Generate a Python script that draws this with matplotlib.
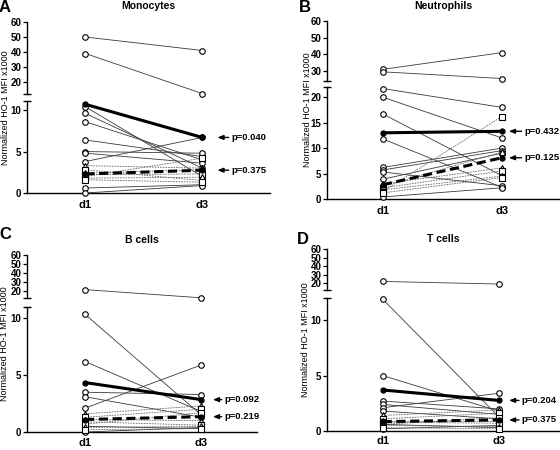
import numpy as np
import matplotlib
matplotlib.use("Agg")
import matplotlib.pyplot as plt

plt.rcParams["font.family"] = ["Liberation Sans", "DejaVu Sans"]

# ---- data (values x1000) ----
days = ["d1", "d3"]
ylabel = "Normalized HO-1 MFI x1000"

mono_solid_d1 = [50, 39, 10.4, 9.6, 8.6, 6.4, 5.0, 4.8, 3.8, 0.6, 0.0]
mono_solid_d3 = [41, 12.3, 2.0, 3.0, 4.0, 4.4, 4.8, 3.6, 6.7, 1.0, 0.9]
mono_dash_d1 = [3.3, 2.8, 2.4, 2.2, 2.0, 1.8, 1.6]
mono_dash_d3 = [3.0, 1.5, 2.8, 2.3, 4.2, 1.9, 1.3]
mono_mean_solid = [10.7, 6.7]
mono_mean_dash = [2.3, 2.75]
mono_p = ["p=0.040", "p=0.375"]

neut_solid_d1 = [31, 29.5, 21.7, 20.0, 16.7, 11.8, 6.2, 5.7, 5.3, 3.9, 0.4]
neut_solid_d3 = [41, 25.5, 18.0, 12.0, 4.6, 2.3, 10.0, 9.5, 2.6, 9.0, 2.2]
neut_dash_d1 = [3.0, 2.2, 1.8, 1.5, 1.2, 2.5]
neut_dash_d3 = [6.1, 5.5, 4.5, 16.2, 4.2, 9.2]
neut_mean_solid = [13.0, 13.3]
neut_mean_dash = [2.8, 8.1]
neut_p = ["p=0.432", "p=0.125"]

bcell_solid_d1 = [22, 10.35, 6.2, 3.5, 3.1, 2.1, 0.5, 0.0]
bcell_solid_d3 = [13, 1.5, 1.8, 3.3, 1.3, 5.9, 0.3, 0.4]
bcell_dash_d1 = [1.6, 1.3, 1.1, 0.9, 0.7, 0.4, 0.2]
bcell_dash_d3 = [2.3, 2.0, 1.0, 0.6, 1.7, 0.5, 0.3]
bcell_mean_solid = [4.35, 2.85]
bcell_mean_dash = [1.1, 1.35]
bcell_p = ["p=0.092", "p=0.219"]

tcell_solid_d1 = [22, 11.9, 5.0, 2.7, 2.4, 2.1, 1.8, 0.6, 0.2]
tcell_solid_d3 = [19, 1.3, 1.8, 2.0, 1.5, 3.4, 1.1, 0.3, 0.5]
tcell_dash_d1 = [1.4, 1.1, 0.9, 0.8, 0.6, 0.5, 0.3]
tcell_dash_d3 = [1.9, 1.6, 0.9, 0.7, 1.2, 0.4, 0.2]
tcell_mean_solid = [3.7, 2.76]
tcell_mean_dash = [0.85, 1.0]
tcell_p = ["p=0.204", "p=0.375"]

W, H = 560, 450
fig = plt.figure(figsize=(W / 100, H / 100), dpi=100)


def box(left, right, top, bottom):
    return [left / W, 1 - bottom / H, (right - left) / W, (bottom - top) / H]


def panel(letter, title, s1, s3, d1, d3, msolid, mdash, plabels, lay):
    up = fig.add_axes(box(lay["x0"], lay["x1"], lay["ut"], lay["ub"]))
    lo = fig.add_axes(box(lay["x0"], lay["x1"], lay["lt"], lay["lb"]))
    cut = lay["lylim"][1]
    x = [1, 2]

    def ax_for(a, b):
        return up if max(a, b) > cut else lo

    for a, b in zip(s1, s3):
        ax_for(a, b).plot(x, [a, b], "-", color="#3a3a3a", lw=0.6, marker="o",
                          ms=4, mfc="white", mec="black", mew=0.8, clip_on=False, zorder=3)
    mk = ["^", "s", "^", "s", "s", "^", "s"]
    for i, (a, b) in enumerate(zip(d1, d3)):
        ax_for(a, b).plot(x, [a, b], "--", dashes=(2, 1.2), color="#666666", lw=0.6,
                          marker=mk[i % len(mk)], ms=4, mfc="white", mec="black",
                          mew=0.8, clip_on=False, zorder=3)
    lo.plot(x, msolid, "-", color="black", lw=2.2, marker="o", ms=3.5, mfc="black",
            clip_on=False, zorder=5)
    lo.plot(x, mdash, "--", dashes=(3, 1.5), color="black", lw=2.2, marker="o", ms=3.5,
            mfc="black", clip_on=False, zorder=5)

    for ax in (up, lo):
        ax.set_xlim(*lay["xlim"])
        for s in ("top", "right"):
            ax.spines[s].set_visible(False)
        ax.spines["left"].set_linewidth(1.0)
        ax.tick_params(axis="y", length=3, width=0.9, labelsize=7, pad=1)
        ax.set_facecolor("none")
    up.spines["bottom"].set_visible(False)
    up.set_xticks([])
    up.set_ylim(*lay["uylim"])
    up.set_yticks(lay["uticks"])
    lo.set_ylim(*lay["lylim"])
    lo.set_yticks(lay["lticks"])
    lo.spines["bottom"].set_linewidth(1.0)
    lo.set_xticks(x)
    lo.set_xticklabels(days, fontsize=8, fontweight="bold")
    lo.tick_params(axis="x", length=0, pad=lay["xpad"])
    for ax in (up, lo):
        for t in ax.get_yticklabels():
            t.set_fontweight("bold")

    # break caps
    up.plot([0], [0], marker="_", ms=6, mew=1.0, color="black",
            transform=up.transAxes, clip_on=False)
    lo.plot([0], [1], marker="_", ms=6, mew=1.0, color="black",
            transform=lo.transAxes, clip_on=False)

    # p-value arrows
    for lab, yv in zip(plabels, [msolid[1], mdash[1]]):
        lo.annotate(lab, xy=(lay["ahead"], yv), xytext=(lay["atext"], yv),
                    fontsize=6.8, fontweight="bold", va="center", ha="left",
                    annotation_clip=False,
                    arrowprops=dict(arrowstyle="-|>,head_length=0.5,head_width=0.2",
                                    color="black", lw=1.0, shrinkA=0, shrinkB=0,
                                    relpos=(0, 0.5)))

    xc = (lay["x0"] + lay["x1"]) / 2
    fig.text(xc / W, 1 - lay["ty"] / H, title, ha="center", va="center",
             fontsize=7.5, fontweight="bold")
    fig.text(lay["lx"] / W, 1 - lay["ly"] / H, letter, ha="left", va="top",
             fontsize=12, fontweight="bold")
    fig.text(lay["yx"] / W, 1 - (lay["ut"] + lay["lb"]) / 2 / H, ylabel,
             rotation=90, ha="center", va="center", fontsize=6.5)


panel("A", "Monocytes", mono_solid_d1, mono_solid_d3, mono_dash_d1, mono_dash_d3,
      mono_mean_solid, mono_mean_dash, mono_p,
      dict(x0=27, x1=270, ut=22, ub=94, lt=101, lb=193, xlim=(0.5, 2.58),
           uylim=(12, 60), lylim=(0, 11.1), uticks=[20, 30, 40, 50, 60],
           lticks=[0, 5, 10], ahead=2.13, atext=2.25, ty=6, lx=-1, ly=0.5, yx=6,
           xpad=5))
panel("B", "Neutrophils", neut_solid_d1, neut_solid_d3, neut_dash_d1, neut_dash_d3,
      neut_mean_solid, neut_mean_dash, neut_p,
      dict(x0=327, x1=560, ut=21, ub=81, lt=87, lb=199, xlim=(0.53, 2.49),
           uylim=(24, 60), lylim=(0, 22), uticks=[30, 40, 50, 60],
           lticks=[0, 5, 10, 15, 20], ahead=2.06, atext=2.19, ty=6, lx=299, ly=0.5,
           yx=307, xpad=5))
panel("C", "B cells", bcell_solid_d1, bcell_solid_d3, bcell_dash_d1, bcell_dash_d3,
      bcell_mean_solid, bcell_mean_dash, bcell_p,
      dict(x0=27, x1=257, ut=255, ub=298, lt=307, lb=432, xlim=(0.5, 2.48),
           uylim=(12.8, 60), lylim=(0, 11), uticks=[20, 30, 40, 50, 60],
           lticks=[0, 5, 10], ahead=2.1, atext=2.2, ty=240, lx=-1, ly=227, yx=5,
           xpad=4))
panel("D", "T cells", tcell_solid_d1, tcell_solid_d3, tcell_dash_d1, tcell_dash_d3,
      tcell_mean_solid, tcell_mean_dash, tcell_p,
      dict(x0=327, x1=560, ut=249, ub=290, lt=298, lb=431, xlim=(0.52, 2.53),
           uylim=(12, 60), lylim=(0, 12), uticks=[20, 30, 40, 50, 60],
           lticks=[0, 5, 10], ahead=2.09, atext=2.2, ty=239, lx=297, ly=232, yx=305,
           xpad=3.5))

fig.savefig("out.png", dpi=100, facecolor="white")
